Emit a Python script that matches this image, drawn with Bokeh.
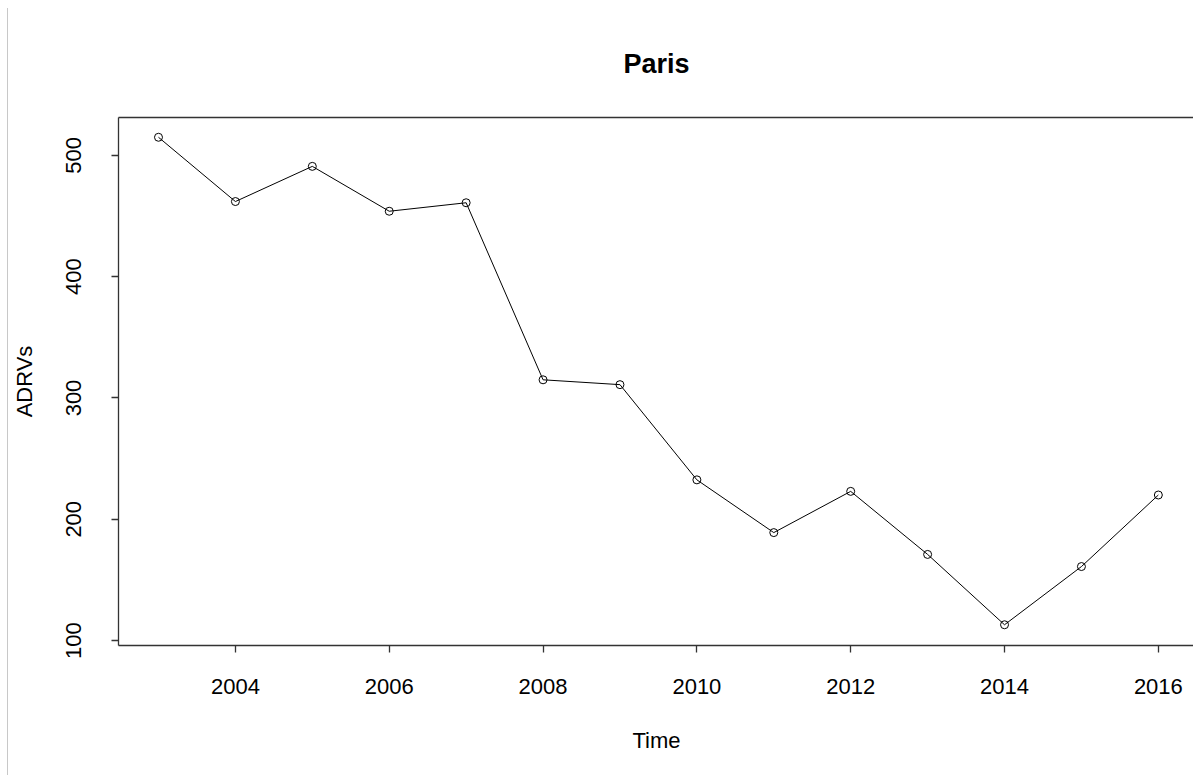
from bokeh.plotting import figure
from bokeh.models import Range1d, FixedTicker, LinearAxis
from bokeh.embed import file_html
from bokeh.resources import INLINE

years = [2003, 2004, 2005, 2006, 2007, 2008, 2009, 2010, 2011, 2012, 2013, 2014, 2015, 2016]
adrvs = [515, 462, 491, 454, 461, 315, 311, 232.5, 189, 223, 171, 113, 161, 220]
x_ticks = [2004, 2006, 2008, 2010, 2012, 2014, 2016]
y_ticks = [100, 200, 300, 400, 500]

FONT = "Liberation Sans"
AX = "#333333"

p = figure(width=1186, height=767, output_backend="svg", toolbar_location=None,
           x_range=Range1d(2002.48, 2016.47), y_range=Range1d(95.9, 531.3),
           min_border_left=110, min_border_right=0, min_border_top=109, min_border_bottom=130)
p.title.text = "Paris"
p.title.align = "center"
p.title.text_font = FONT
p.title.text_font_size = "27px"
p.title.text_font_style = "bold"
p.title.text_color = "black"
p.title.offset = 0
p.title.standoff = 77

p.outline_line_color = None
p.grid.visible = False
p.background_fill_color = "white"
p.border_fill_color = "white"
p.styles = {"margin-left": "7px", "margin-top": "8px", "border-left": "1px solid #c8c8c8"}

p.xaxis.ticker = FixedTicker(ticks=x_ticks)
p.yaxis.ticker = FixedTicker(ticks=y_ticks)
p.xaxis.axis_label = "Time"
p.yaxis.axis_label = "ADRVs"
p.yaxis.major_label_orientation = "vertical"
for ax in (p.xaxis[0], p.yaxis[0]):
    ax.axis_line_color = AX
    ax.axis_line_width = 1.3
    ax.major_tick_line_color = AX
    ax.major_tick_line_width = 1.3
    ax.major_tick_out = 7
    ax.major_tick_in = 0
    ax.minor_tick_line_color = None
    ax.major_label_text_font = FONT
    ax.major_label_text_font_size = "22px"
    ax.major_label_text_color = "black"
    ax.axis_label_text_font = FONT
    ax.axis_label_text_font_size = "22px"
    ax.axis_label_text_font_style = "normal"
    ax.axis_label_text_color = "black"
p.xaxis.major_label_standoff = 26
p.xaxis.axis_label_standoff = 31
p.yaxis.major_label_standoff = 30
p.yaxis.axis_label_standoff = 27

top = LinearAxis(ticker=FixedTicker(ticks=[]), major_label_text_font_size="0px",
                 axis_line_color=AX, axis_line_width=1.3, major_tick_line_color=None,
                 minor_tick_line_color=None)
p.add_layout(top, "above")

p.line(years, adrvs, line_color="black", line_width=1)
p.scatter(years, adrvs, size=8, marker="circle", fill_color=None, line_color="black", line_width=1)

open("out.html", "w").write(file_html(p, INLINE))
